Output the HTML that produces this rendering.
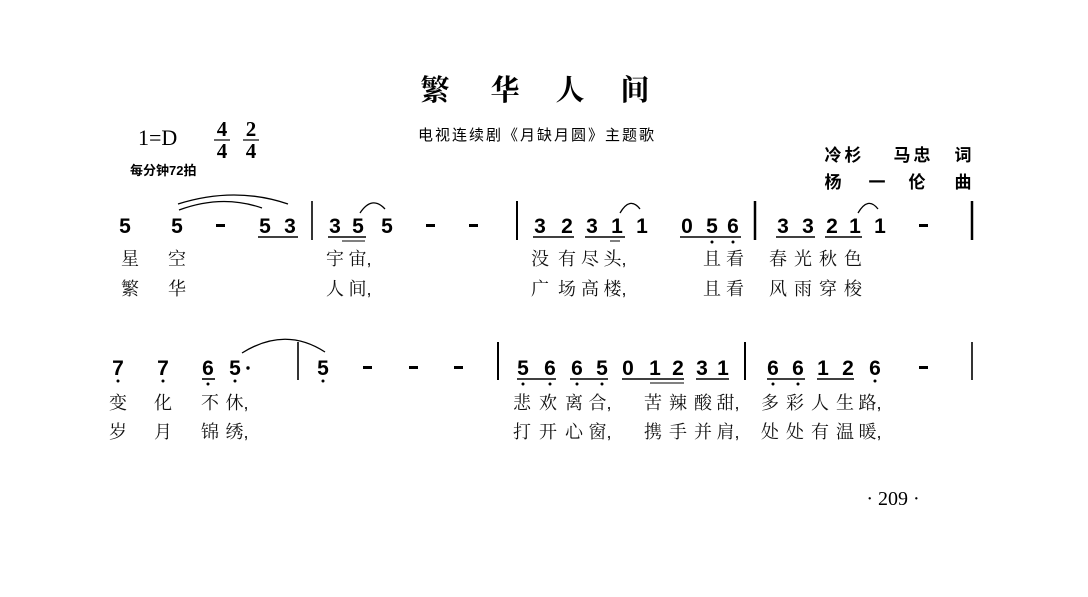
<!DOCTYPE html>
<html><head><meta charset="utf-8"><style>
html,body{margin:0;padding:0;background:#fff;}
svg{display:block}
.n{font-family:"Liberation Sans",sans-serif;font-weight:bold;font-size:21px;fill:#000;text-anchor:middle}
.l{font-family:"Liberation Sans","Noto Serif CJK SC","Noto Sans CJK SC",serif;font-size:18px;fill:#111;text-anchor:middle}
.c{font-family:"Liberation Sans","Noto Sans CJK SC",sans-serif;font-size:17px;font-weight:bold;fill:#000;text-anchor:middle}
</style></head><body>
<svg width="1088" height="597" viewBox="0 0 1088 597" xmlns="http://www.w3.org/2000/svg">
<rect width="1088" height="597" fill="#fff"/>
<g font-family="'Liberation Serif','Noto Serif CJK SC',serif" font-size="29" font-weight="bold" text-anchor="middle" fill="#000">
<text x="435" y="100">繁</text><text x="505" y="100">华</text><text x="570" y="100">人</text><text x="635" y="100">间</text>
</g>
<text x="537" y="140" font-family="'Liberation Sans','Noto Sans CJK SC',sans-serif" font-size="15" text-anchor="middle" letter-spacing="2">电视连续剧《月缺月圆》主题歌</text>
<text x="138" y="145" font-family="'Liberation Serif',serif" font-size="22">1=D</text>
<g font-family="'Liberation Serif',serif" font-size="21" font-weight="bold" text-anchor="middle">
<text x="222" y="136">4</text><text x="222" y="158">4</text><line x1="214" y1="140" x2="230" y2="140" stroke="#000" stroke-width="1.2"/>
<text x="251" y="136">2</text><text x="251" y="158">4</text><line x1="243" y1="140" x2="259" y2="140" stroke="#000" stroke-width="1.2"/>
</g>
<text x="130" y="175" font-family="'Liberation Sans','Noto Sans CJK SC',sans-serif" font-size="13" font-weight="bold">每分钟72拍</text>
<text class="c" x="833" y="161">冷</text><text class="c" x="853" y="161">杉</text><text class="c" x="902" y="161">马</text><text class="c" x="922" y="161">忠</text><text class="c" x="963" y="161">词</text>
<text class="c" x="833" y="188">杨</text><text class="c" x="877" y="188">一</text><text class="c" x="917" y="188">伦</text><text class="c" x="963" y="188">曲</text>
<!-- row 1 notes -->
<g>
<text class="n" x="125" y="233">5</text><text class="n" x="177" y="233">5</text>
<text class="n" x="265" y="233">5</text><text class="n" x="290" y="233">3</text>
<text class="n" x="335" y="233">3</text><text class="n" x="358" y="233">5</text><text class="n" x="387" y="233">5</text>
<text class="n" x="540" y="233">3</text><text class="n" x="567" y="233">2</text><text class="n" x="592" y="233">3</text><text class="n" x="617" y="233">1</text><text class="n" x="642" y="233">1</text>
<text class="n" x="687" y="233">0</text><text class="n" x="712" y="233">5</text><text class="n" x="733" y="233">6</text>
<text class="n" x="783" y="233">3</text><text class="n" x="808" y="233">3</text><text class="n" x="832" y="233">2</text><text class="n" x="855" y="233">1</text><text class="n" x="880" y="233">1</text>
</g>
<g fill="#000">
<rect x="216" y="224" width="9" height="3"/><rect x="426" y="224" width="9" height="3"/><rect x="469" y="224" width="9" height="3"/><rect x="919" y="224" width="9" height="3"/>
</g>
<g stroke="#000" stroke-width="1.6" fill="none">
<line x1="312" y1="201" x2="312" y2="240"/><line x1="517" y1="201" x2="517" y2="240" stroke-width="2"/>
<line x1="755" y1="201" x2="755" y2="240" stroke-width="2.5"/><line x1="972" y1="201" x2="972" y2="240" stroke-width="2.5"/>
<line x1="258" y1="237" x2="298" y2="237"/><line x1="328" y1="237" x2="366" y2="237"/>
<line x1="533" y1="237" x2="574" y2="237"/><line x1="585" y1="237" x2="625" y2="237"/>
<line x1="680" y1="237" x2="741" y2="237"/>
<line x1="776" y1="237" x2="815" y2="237"/><line x1="825" y1="237" x2="862" y2="237"/>
<line x1="610" y1="241" x2="620" y2="241" stroke-width="1"/>
<line x1="342" y1="241" x2="365" y2="241" stroke-width="1"/>
<path d="M178 204 Q235 186 288 204" stroke-width="1.3"/>
<path d="M179 210 Q222 194 262 208" stroke-width="1.3"/>
<path d="M360 213 Q372 195 385 209" stroke-width="1.3"/>
<path d="M620 213 Q630 196 640 209" stroke-width="1.3"/>
<path d="M858 213 Q868 196 878 209" stroke-width="1.3"/>
</g>
<g fill="#000"><circle cx="712" cy="242" r="1.5"/><circle cx="733" cy="242" r="1.5"/></g>
<!-- row 1 lyrics -->
<g>
<text class="l" x="130" y="265">星</text><text class="l" x="177" y="265">空</text>
<text class="l" x="335" y="265">宇</text><text class="l" x="360" y="265">宙,</text>
<text class="l" x="540" y="265">没</text><text class="l" x="567" y="265">有</text><text class="l" x="590" y="265">尽</text><text class="l" x="615" y="265">头,</text>
<text class="l" x="712" y="265">且</text><text class="l" x="735" y="265">看</text>
<text class="l" x="778" y="265">春</text><text class="l" x="803" y="265">光</text><text class="l" x="828" y="265">秋</text><text class="l" x="853" y="265">色</text>
<text class="l" x="130" y="295">繁</text><text class="l" x="177" y="295">华</text>
<text class="l" x="335" y="295">人</text><text class="l" x="360" y="295">间,</text>
<text class="l" x="540" y="295">广</text><text class="l" x="567" y="295">场</text><text class="l" x="590" y="295">高</text><text class="l" x="615" y="295">楼,</text>
<text class="l" x="712" y="295">且</text><text class="l" x="735" y="295">看</text>
<text class="l" x="778" y="295">风</text><text class="l" x="803" y="295">雨</text><text class="l" x="828" y="295">穿</text><text class="l" x="853" y="295">梭</text>
</g>
<!-- row 2 notes -->
<g>
<text class="n" x="118" y="375">7</text><text class="n" x="163" y="375">7</text><text class="n" x="208" y="375">6</text><text class="n" x="235" y="375">5</text>
<text class="n" x="323" y="375">5</text>
<text class="n" x="523" y="375">5</text><text class="n" x="550" y="375">6</text><text class="n" x="577" y="375">6</text><text class="n" x="602" y="375">5</text>
<text class="n" x="628" y="375">0</text><text class="n" x="655" y="375">1</text><text class="n" x="678" y="375">2</text><text class="n" x="702" y="375">3</text><text class="n" x="723" y="375">1</text>
<text class="n" x="773" y="375">6</text><text class="n" x="798" y="375">6</text><text class="n" x="823" y="375">1</text><text class="n" x="848" y="375">2</text><text class="n" x="875" y="375">6</text>
</g>
<g fill="#000">
<rect x="363" y="366" width="9" height="3"/><rect x="409" y="366" width="9" height="3"/><rect x="454" y="366" width="9" height="3"/><rect x="919" y="366" width="9" height="3"/>
<circle cx="248" cy="368" r="1.7"/>
<circle cx="118" cy="381" r="1.5"/><circle cx="163" cy="381" r="1.5"/><circle cx="208" cy="384" r="1.5"/><circle cx="235" cy="381" r="1.5"/><circle cx="323" cy="381" r="1.5"/>
<circle cx="523" cy="384" r="1.5"/><circle cx="550" cy="384" r="1.5"/><circle cx="577" cy="384" r="1.5"/><circle cx="602" cy="384" r="1.5"/>
<circle cx="773" cy="384" r="1.5"/><circle cx="798" cy="384" r="1.5"/><circle cx="875" cy="381" r="1.5"/>
</g>
<g stroke="#000" stroke-width="1.6" fill="none">
<line x1="298" y1="342" x2="298" y2="380"/><line x1="498" y1="342" x2="498" y2="380" stroke-width="2"/>
<line x1="745" y1="342" x2="745" y2="380" stroke-width="2"/><line x1="972" y1="342" x2="972" y2="380" stroke-width="1.6"/>
<line x1="202" y1="379" x2="215" y2="379"/>
<line x1="517" y1="379" x2="556" y2="379"/><line x1="570" y1="379" x2="608" y2="379"/>
<line x1="622" y1="379" x2="684" y2="379"/><line x1="650" y1="383" x2="684" y2="383" stroke-width="1"/>
<line x1="696" y1="379" x2="729" y2="379"/>
<line x1="767" y1="379" x2="805" y2="379"/><line x1="817" y1="379" x2="854" y2="379"/>
<path d="M242 353 Q285 326 325 352" stroke-width="1.3"/>
</g>
<!-- row 2 lyrics -->
<g>
<text class="l" x="118" y="409">变</text><text class="l" x="163" y="409">化</text><text class="l" x="210" y="409">不</text><text class="l" x="237" y="409">休,</text>
<text class="l" x="522" y="409">悲</text><text class="l" x="548" y="409">欢</text><text class="l" x="574" y="409">离</text><text class="l" x="600" y="409">合,</text>
<text class="l" x="653" y="409">苦</text><text class="l" x="678" y="409">辣</text><text class="l" x="703" y="409">酸</text><text class="l" x="728" y="409">甜,</text>
<text class="l" x="770" y="409">多</text><text class="l" x="795" y="409">彩</text><text class="l" x="820" y="409">人</text><text class="l" x="845" y="409">生</text><text class="l" x="870" y="409">路,</text>
<text class="l" x="118" y="438">岁</text><text class="l" x="163" y="438">月</text><text class="l" x="210" y="438">锦</text><text class="l" x="237" y="438">绣,</text>
<text class="l" x="522" y="438">打</text><text class="l" x="548" y="438">开</text><text class="l" x="574" y="438">心</text><text class="l" x="600" y="438">窗,</text>
<text class="l" x="653" y="438">携</text><text class="l" x="678" y="438">手</text><text class="l" x="703" y="438">并</text><text class="l" x="728" y="438">肩,</text>
<text class="l" x="770" y="438">处</text><text class="l" x="795" y="438">处</text><text class="l" x="820" y="438">有</text><text class="l" x="845" y="438">温</text><text class="l" x="870" y="438">暖,</text>
</g>
<text x="893" y="505" font-family="'Liberation Serif',serif" font-size="20" text-anchor="middle">· 209 ·</text>
</svg>
</body></html>
